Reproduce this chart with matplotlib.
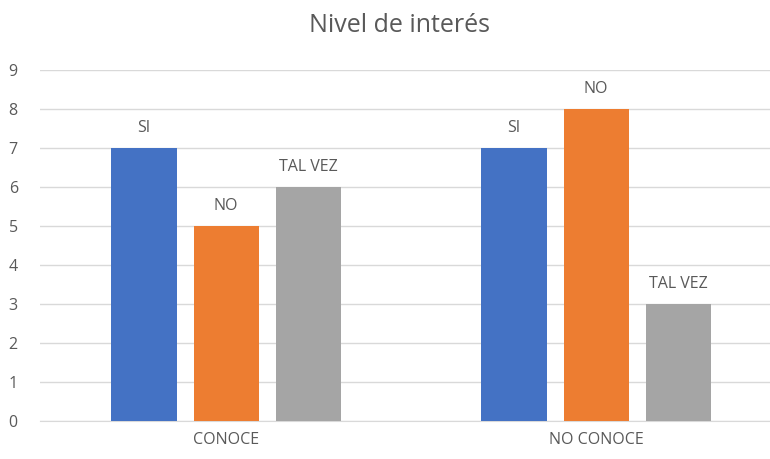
import numpy as np
import matplotlib.pyplot as plt

categories = ['CONOCE', 'NO CONOCE']
series = ['SI', 'NO', 'TAL VEZ']
values_si = [7, 7]
values_no = [5, 8]
values_talvez = [6, 3]
colors = ['#4472C4', '#ED7D31', '#A5A5A5']

plt.rcParams['font.family'] = ['Open Sans', 'DejaVu Sans']
txt = '#595959'

fig = plt.figure(figsize=(7.7, 4.59), dpi=100)
ax = fig.add_axes([40 / 770, 1 - 421 / 459, 730 / 770, 351 / 459])

x = np.arange(len(categories))
w = 0.176
step = 0.222
for i, (name, vals) in enumerate(zip(series, [values_si, values_no, values_talvez])):
    pos = x + (i - 1) * step
    ax.bar(pos, vals, width=w, color=colors[i], zorder=3)
    for p, v in zip(pos, vals):
        ax.text(p, v + 0.32, name, ha='center', va='bottom', fontsize=11.5, color=txt)

ax.set_xlim(-0.503, 1.47)
ax.set_ylim(0, 9)
ax.set_yticks(range(10))
ax.set_xticks(x)
ax.set_xticklabels(categories)
ax.tick_params(axis='both', length=0, labelsize=11.5, colors=txt)
ax.tick_params(axis='y', pad=16)
ax.tick_params(axis='x', pad=8)
ax.yaxis.grid(True, color='#D9D9D9', linewidth=1, zorder=0)
for s in ['top', 'right', 'left']:
    ax.spines[s].set_visible(False)
ax.spines['bottom'].set_color('#D9D9D9')

fig.text(400 / 770, 1 - 26 / 459, 'Nivel de interés', ha='center', va='center',
         fontsize=18, color=txt)

fig.savefig('out.png', dpi=100)
